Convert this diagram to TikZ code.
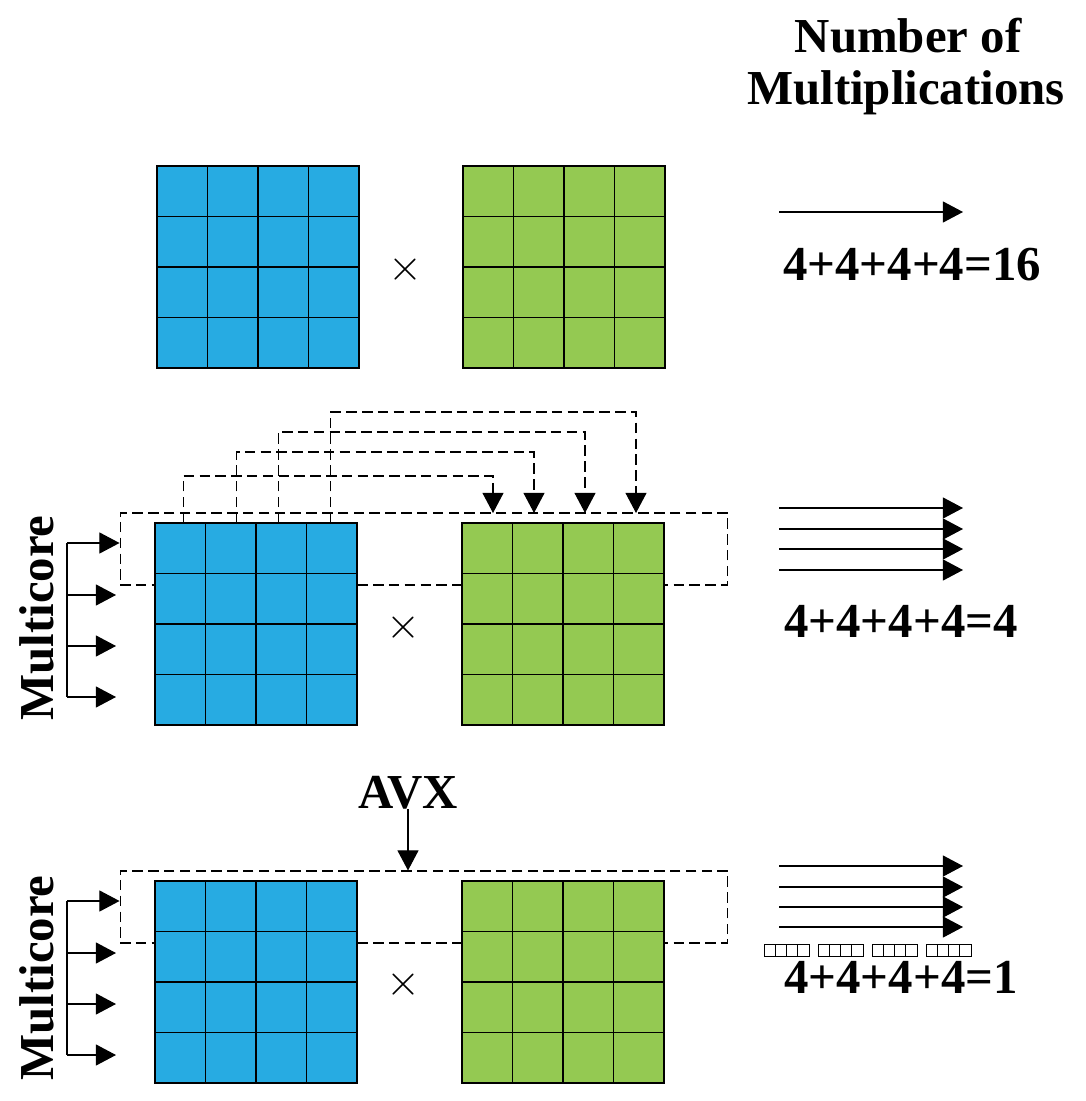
\documentclass[tikz,border=0pt]{standalone}
\usepackage{fontspec}
\setmainfont{Liberation Serif}
\usetikzlibrary{arrows.meta,positioning,calc}
\definecolor{cellblue}{RGB}{39,171,226}
\definecolor{cellgreen}{RGB}{148,201,82}

\begin{document}
\begin{tikzpicture}[
    x=0.02cm, y=-0.02cm,
    bcell/.style={draw,fill=cellblue,minimum size=1.01cm,inner sep=0pt,outer sep=0pt,line width=0.6pt},
    gcell/.style={bcell,fill=cellgreen},
    lbl/.style={font=\fontsize{27.8}{29.5}\selectfont\bfseries,inner sep=0pt,anchor=base},
    times/.style={font=\fontsize{24}{26}\selectfont,inner sep=0pt},
    rowbox/.style={draw,dash pattern=on 6pt off 3pt,line width=0.6pt,minimum width=12.16cm,minimum height=1.44cm,inner sep=0pt},
    dline/.style={line width=0.6pt,dash pattern=on 6pt off 3pt,-{Triangle[length=11.5pt,width=12pt]}},
    arr/.style={line width=0.7pt,-{Triangle[length=11.5pt,width=12pt]}}
]
\useasboundingbox (0,0) rectangle (1085,1101);

% dashed rows (behind the matrices)
\node[rowbox] (row2) at (424,549) {};
\node[rowbox] (row3) at (424,907) {};

% matrices
\foreach \m/\x/\y/\s in {b1/157/166/bcell, g1/463/166/gcell, b2/155/523/bcell, g2/462/523/gcell, b3/155/881/bcell, g3/462/881/gcell}
  \foreach \r in {1,...,4}
    \foreach \c in {1,...,4}
      \node[\s] (\m-\r-\c) at (\x+25.25+50.5*\c-50.5, \y+25.25+50.5*\r-50.5) {};

\node[times] (x1) at (405,270) {$\times$};
\node[times] (x2) at (403,628) {$\times$};
\node[times] (x3) at (403,985) {$\times$};

% heading
\node[lbl] (ttl1) at (908,53) {Number of};
\node[lbl] (ttl2) at (906,105) {Multiplications};

% counts
\node[lbl] (eq1) at (912,280) {4+4+4+4=16};
\node[lbl] (eq2) at (901,637) {4+4+4+4=4};
\node[lbl] (eq3) at (901,993) {4+4+4+4=1};

\coordinate (ra0) at (779,212);
\coordinate (rb0) at (963,212);
\draw[arr] (ra0) -- (rb0);
\foreach \i/\y in {1/508,2/529,3/549,4/570,5/866,6/887,7/907,8/927}{
  \coordinate (ra\i) at (779,\y);
  \coordinate (rb\i) at (963,\y);
  \draw[arr] (ra\i) -- (rb\i);
}

% vector registers
\foreach \g in {0,...,3}
  \foreach \k in {0,...,3}
    \draw[line width=0.5pt] (764+54*\g+11.25*\k,944) rectangle ++(11.25,12);

% row copies to the other matrix
\foreach \c/\dx/\h/\tx in {1/3/47/493, 2/6/71/534, 3/-3/91/585, 4/-1/111/636}{
  \coordinate (d\c) at (\tx,513);
  \draw[dline] ([xshift=\dx*0.02cm]b2-1-\c.north) -- ++(0,-\h) -| (d\c);
}

% multicore
\node[lbl,rotate=90] (mc2) at (53,618) {Multicore};
\node[lbl,rotate=90] (mc3) at (53,978) {Multicore};
\foreach \r/\o in {2/0,3/358}{
  \foreach \i/\y in {1/543,2/595,3/646,4/697}{
    \coordinate (sp\r-\i) at (67,\y+\o);
    \coordinate (tp\r-\i) at (116,\y+\o);
  }
  \draw[line width=0.7pt] (sp\r-1) -- (sp\r-4);
  \draw[arr] (sp\r-1) -- (sp\r-1 -| row\r.west);
  \foreach \i in {2,3,4} \draw[arr] (sp\r-\i) -- (tp\r-\i);
}

% AVX
\node[lbl] (avx) at (408,808) {AVX};
\draw[arr] (avx.south) -- (avx.south |- row3.north);
\end{tikzpicture}
\end{document}
